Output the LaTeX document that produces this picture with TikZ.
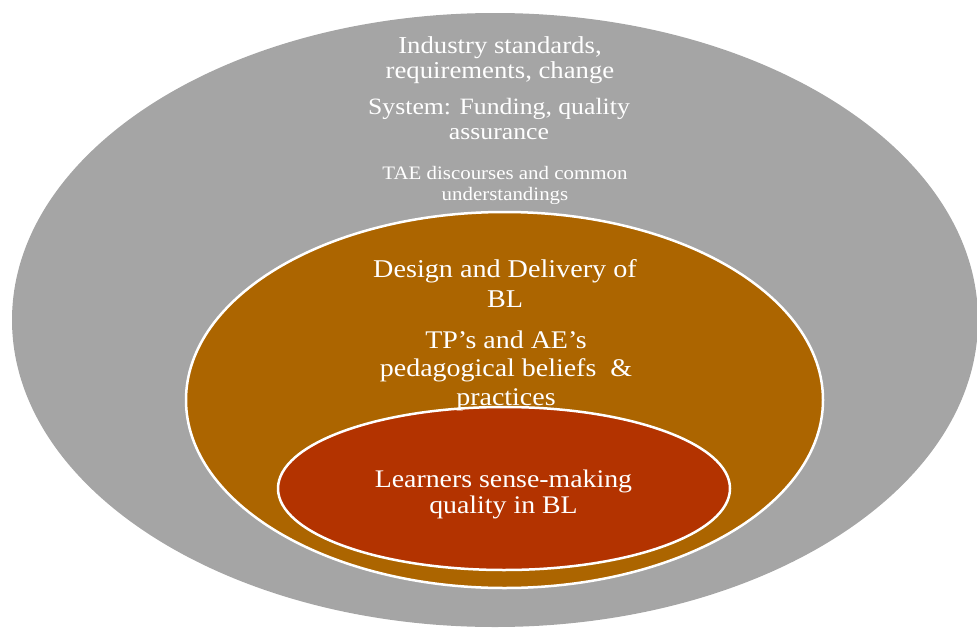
\documentclass[tikz,border=0pt]{standalone}
\usepackage{fontspec}
\setmainfont{Liberation Serif}[FakeStretch=1.1]
\usetikzlibrary{shapes.geometric}
\definecolor{outergray}{HTML}{A5A5A5}
\definecolor{midbrown}{HTML}{AC6500}
\definecolor{innerred}{HTML}{B33300}
\begin{document}
\begin{tikzpicture}[x=1pt,y=-1pt,
  ring/.style={ellipse, inner sep=0pt, outer sep=0pt},
  ringline/.style={ring, draw=white, line width=2.5pt},
  txt/.style={text=white, align=center, inner sep=0pt, outer sep=0pt},
  smalltxt/.style={txt, font=\fontsize{19}{21}\selectfont}]
\useasboundingbox (0,0) rectangle (977,629);
% rings
\node[ring, fill=outergray, minimum width=966pt, minimum height=614pt] (outer) at (495,320) {};
\node[ringline, fill=midbrown, minimum width=637pt, minimum height=376pt] (middle) at (504.5,400) {};
\node[ringline, fill=innerred, minimum width=452pt, minimum height=163pt] (inner) at (504,488.5) {};
% outer texts
\node[txt, font=\fontsize{24.3}{25}\selectfont] (industry) at (500,60) {Industry standards,\\requirements, change};
\node[txt, font=\fontsize{23.4}{25}\selectfont] (system) at (499,119.3) {System: Funding, quality\\assurance};
\node[smalltxt] (tae) at (505,185) {TAE discourses and common\\understandings};
% middle texts
\node[txt, font=\fontsize{25.6}{30}\selectfont] (design) at (505,283.5) {Design and Delivery of\\BL};
\node[txt, font=\fontsize{25.4}{28.5}\selectfont] (tp) at (506,370.8) {TP’s and AE’s\\pedagogical beliefs~~\&\\practices};
% inner text
\node[txt, font=\fontsize{25.3}{26}\selectfont] (learners) at (503.5,494) {Learners sense-making\\quality in BL};
\end{tikzpicture}
\end{document}
